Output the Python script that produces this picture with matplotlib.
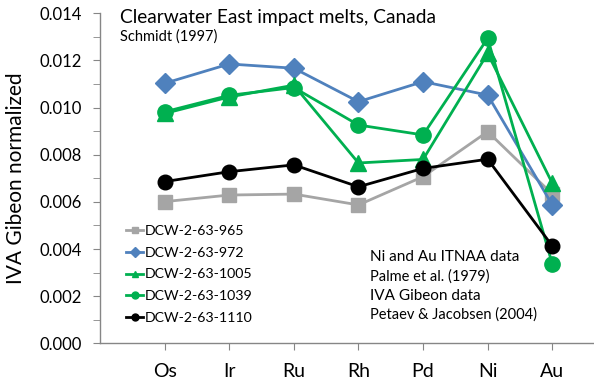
import matplotlib
matplotlib.use("Agg")
import matplotlib.pyplot as plt
from matplotlib.ticker import MultipleLocator, FuncFormatter

plt.rcParams['font.family'] = ['Lato', 'DejaVu Sans']

elements = ["Os", "Ir", "Ru", "Rh", "Pd", "Ni", "Au"]
s965 = [0.00601, 0.00629, 0.00633, 0.00587, 0.00707, 0.00898, 0.00633]
s972 = [0.01103, 0.01185, 0.01167, 0.01025, 0.01110, 0.01053, 0.00587]
s1005 = [0.00975, 0.01045, 0.01095, 0.00765, 0.00780, 0.01230, 0.00679]
s1039 = [0.00982, 0.01052, 0.01085, 0.00926, 0.00884, 0.01294, 0.00336]
s1110 = [0.00686, 0.00728, 0.00757, 0.00664, 0.00742, 0.00781, 0.00413]
names = ["DCW-2-63-965", "DCW-2-63-972", "DCW-2-63-1005", "DCW-2-63-1039", "DCW-2-63-1110"]

series = [s965, s972, s1005, s1039, s1110]
colors = ["#A5A5A5", "#4F81BD", "#00B050", "#00B050", "#000000"]
markers = ["s", "D", "^", "o", "o"]
msizes = [9.5, 10, 11, 11, 10.5]

fig = plt.figure(figsize=(5.94, 3.83), dpi=100)
ax = fig.add_axes([100/594, 1-343.3/383, 493/594, (343.3-13.3)/383])

x = list(range(len(elements)))
handles = []
for vals, c, m, ms, n in zip(series, colors, markers, msizes, names):
    ax.plot(x, vals, color=c, lw=2, marker=m, ms=ms, mec=c, mfc=c, zorder=3)
    h, = ax.plot([], [], color=c, lw=2, marker=m, ms=5, mec=c, mfc=c, label=n)
    handles.append(h)

ax.set_xlim(-1, 6.63)
ax.set_ylim(0, 0.014)
ax.yaxis.set_major_locator(MultipleLocator(0.002))
ax.yaxis.set_minor_locator(MultipleLocator(0.001))
ax.yaxis.set_major_formatter(FuncFormatter(lambda v, p: f"{v:.3f}"))
ax.set_xticks(x)
ax.set_xticklabels(elements)

for s in ["top", "right"]:
    ax.spines[s].set_visible(False)
for s in ["left", "bottom"]:
    ax.spines[s].set_color("#868686")
    ax.spines[s].set_linewidth(1)
ax.tick_params(axis="y", which="both", direction="out", length=5, color="#868686",
               labelsize=12, pad=8)
ax.tick_params(axis="x", direction="out", length=5, color="#868686", labelsize=14, pad=9)

ax.set_ylabel("IVA Gibeon normalized", fontsize=15, labelpad=10)

fig.text(120/594, 1-18/383, "Clearwater East impact melts, Canada", fontsize=13.8, va="center", ha="left")
fig.text(120/594, 1-37/383, "Schmidt (1997)", fontsize=10.5, va="center", ha="left")

fig.text(370/594, 1-257/383, "Ni and Au ITNAA data", fontsize=11, va="center", ha="left")
fig.text(370/594, 1-277/383, "Palme et al. (1979)", fontsize=10.5, va="center", ha="left")
fig.text(370/594, 1-296/383, "IVA Gibeon data", fontsize=11, va="center", ha="left")
fig.text(370/594, 1-315/383, "Petaev & Jacobsen (2004)", fontsize=10.5, va="center", ha="left")

leg = ax.legend(handles=handles, loc="upper left", bbox_to_anchor=(20/493, (343.3-219)/330),
                frameon=False, fontsize=10.2, handlelength=1.25, handletextpad=0.1,
                labelspacing=0.7, borderaxespad=0)

fig.savefig("out.png", dpi=100)
